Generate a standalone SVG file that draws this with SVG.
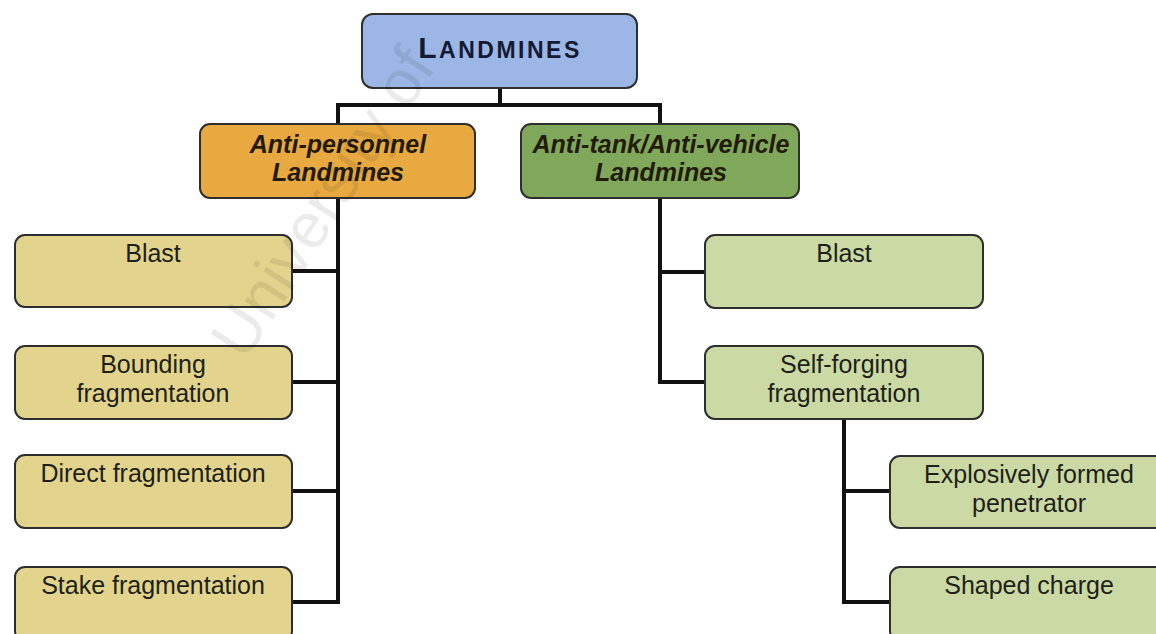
<svg xmlns="http://www.w3.org/2000/svg" width="1156" height="634" viewBox="0 0 1156 634">
<style>
  .box { stroke: #2e2e2e; stroke-width: 2; }
  .root { fill: #9cb7e5; }
  .ap { fill: #e7a940; }
  .at { fill: #7fa85a; }
  .apc { fill: #e2d48c; }
  .atc { fill: #cbdaa4; }
  text { font-family: "Liberation Sans", Arial, sans-serif; fill: #1f1f1a; text-anchor: middle; }
  .t { font-size: 25px; }
  .h { font-size: 25px; font-weight: bold; font-style: italic; fill: #231a0a; }
  .conn { stroke: #111; stroke-width: 4; fill: none; stroke-linecap: square; }
  .wm { font-size: 64px; fill: #000; fill-opacity: 0.08; text-anchor: start; }
</style>
<rect width="1156" height="634" fill="#ffffff"/>
<g id="connectors">
  <path class="conn" d="M500,88 V105 M338,105 H660 M338,105 V124 M660,105 V124"/>
  <path class="conn" d="M338,198 V602 M292,271 H338 M292,382 H338 M292,491 H338 M292,602 H338"/>
  <path class="conn" d="M660,198 V382 M660,272 H705 M660,382 H705"/>
  <path class="conn" d="M844,419 V602 M844,491 H890 M844,602 H890"/>
</g>
<g id="landmines">
  <rect class="box root" x="362" y="14" width="275" height="74" rx="11"/>
  <text x="500" y="58" style="font-weight:bold;letter-spacing:2.5px;fill:#141a33"><tspan font-size="30">L</tspan><tspan font-size="23">ANDMINES</tspan></text>
</g>
<g id="anti-personnel">
  <rect class="box ap" x="200" y="124" width="275" height="74" rx="10"/>
  <text class="h" x="338" y="153">Anti-personnel</text>
  <text class="h" x="338" y="181">Landmines</text>
</g>
<g id="anti-tank">
  <rect class="box at" x="521" y="124" width="278" height="74" rx="10"/>
  <text class="h" x="661" y="153">Anti-tank/Anti-vehicle</text>
  <text class="h" x="661" y="181">Landmines</text>
</g>
<g id="ap-blast">
  <rect class="box apc" x="15" y="235" width="277" height="72" rx="10"/>
  <text class="t" x="153" y="262">Blast</text>
</g>
<g id="ap-bounding">
  <rect class="box apc" x="15" y="346" width="277" height="73" rx="10"/>
  <text class="t" x="153" y="373">Bounding</text>
  <text class="t" x="153" y="402">fragmentation</text>
</g>
<g id="ap-direct">
  <rect class="box apc" x="15" y="455" width="277" height="73" rx="10"/>
  <text class="t" x="153" y="482">Direct fragmentation</text>
</g>
<g id="ap-stake">
  <rect class="box apc" x="15" y="567" width="277" height="74" rx="10"/>
  <text class="t" x="153" y="594">Stake fragmentation</text>
</g>
<g id="at-blast">
  <rect class="box atc" x="705" y="235" width="278" height="73" rx="10"/>
  <text class="t" x="844" y="262">Blast</text>
</g>
<g id="at-selfforging">
  <rect class="box atc" x="705" y="346" width="278" height="73" rx="10"/>
  <text class="t" x="844" y="373">Self-forging</text>
  <text class="t" x="844" y="402">fragmentation</text>
</g>
<g id="efp">
  <rect class="box atc" x="890" y="456" width="278" height="72" rx="10"/>
  <text class="t" x="1029" y="483">Explosively formed</text>
  <text class="t" x="1029" y="512">penetrator</text>
</g>
<g id="shaped-charge">
  <rect class="box atc" x="890" y="567" width="278" height="74" rx="10"/>
  <text class="t" x="1029" y="594">Shaped charge</text>
</g>
<text class="wm" transform="translate(245,362) rotate(-57)">University of</text>
</svg>
